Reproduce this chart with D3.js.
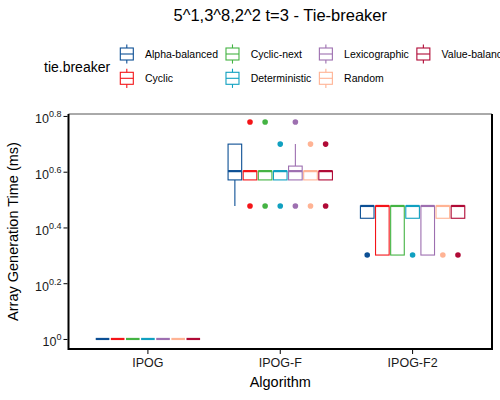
<!doctype html>
<html lang="en">

<head>
    <meta charset="utf-8" />
    <title>Tie-breaker</title>
    <script src="https://d3js.org/d3.v7.min.js"></script>
    <style>
        body { margin: 0; background: #fff; }
        text { font-family: "Liberation Sans", Arial, Helvetica, sans-serif; }
    </style>
</head>

<body>
    <div id="my_dataviz"></div>
    <script>
        // categories
        const algorithms = ["IPOG", "IPOG-F", "IPOG-F2"];
        const tieBreakers = ["Alpha-balanced", "Cyclic", "Cyclic-next", "Deterministic",
            "Lexicographic", "Random", "Value-balanced"];
        const tieColors = ["#0c4f94", "#f41418", "#44b343", "#10a0c0", "#9d6fb0", "#ffb394", "#b00a36"];

        // box statistics in ms, one row per algorithm, one column per tie-breaker
        const whiskerLow = [
            [1, 1, 1, 1, 1, 1, 1],
            [3, 3.72, 3.72, 3.72, 3.72, 3.72, 3.72],
            [2.71, 2, 2, 2.71, 2, 2.71, 2.71]
        ];
        const q1 = [
            [1, 1, 1, 1, 1, 1, 1],
            [3.72, 3.72, 3.72, 3.72, 3.72, 3.72, 3.72],
            [2.71, 2, 2, 2.71, 2, 2.71, 2.71]
        ];
        const median = [
            [1, 1, 1, 1, 1, 1, 1],
            [4, 4, 4, 4, 4, 4, 4],
            [3, 3, 3, 3, 3, 3, 3]
        ];
        const q3 = [
            [1, 1, 1, 1, 1, 1, 1],
            [5, 4, 4, 4, 4.17, 4, 4],
            [3, 3, 3, 3, 3, 3, 3]
        ];
        const whiskerHigh = [
            [1, 1, 1, 1, 1, 1, 1],
            [5, 4, 4, 4, 5, 4, 4],
            [3, 3, 3, 3, 3, 3, 3]
        ];
        const outliers = [
            [[], [], [], [], [], [], []],
            [[], [6, 3], [6, 3], [5, 3], [6, 3], [5, 3], [5, 3]],
            [[2], [], [], [2], [], [2], [2]]
        ];

        // y axis ticks: exponents of 10
        const yExponents = [0, 0.2, 0.4, 0.6, 0.8];

        const W = 500, H = 400;
        const panel = { left: 68.5, right: 492, top: 114, bottom: 349 };

        const svg = d3.select("#my_dataviz")
            .append("svg")
            .attr("width", W)
            .attr("height", H);

        const x = d3.scaleBand()
            .domain(algorithms)
            .range([panel.left, panel.right])
            .padding(0.2);

        const xInner = d3.scaleBand()
            .domain(tieBreakers)
            .range([0, x.bandwidth()])
            .paddingInner(0.1)
            .paddingOuter(0.05);

        const y = d3.scaleLog()
            .domain([Math.pow(10, -0.036), Math.pow(10, 0.807)])
            .range([panel.bottom, panel.top]);

        // title
        svg.append("text")
            .attr("x", (panel.left + panel.right) / 2)
            .attr("y", 21)
            .attr("text-anchor", "middle")
            .style("font-size", "16.5px")
            .text("5^1,3^8,2^2 t=3 - Tie-breaker");

        // boxes
        const rows = [];
        algorithms.forEach((a, i) => {
            tieBreakers.forEach((t, j) => {
                rows.push({
                    alg: a, tie: t, color: tieColors[j],
                    lo: whiskerLow[i][j], q1: q1[i][j], med: median[i][j],
                    q3: q3[i][j], hi: whiskerHigh[i][j], out: outliers[i][j]
                });
            });
        });

        const bw = xInner.bandwidth();
        const g = svg.append("g");
        const box = g.selectAll(".box")
            .data(rows)
            .enter().append("g")
            .attr("class", "box")
            .attr("transform", d => `translate(${x(d.alg) + xInner(d.tie)},0)`);

        box.append("line")
            .attr("x1", bw / 2).attr("x2", bw / 2)
            .attr("y1", d => y(d.hi)).attr("y2", d => y(d.q3))
            .attr("stroke", d => d.color).attr("stroke-width", 1.1);
        box.append("line")
            .attr("x1", bw / 2).attr("x2", bw / 2)
            .attr("y1", d => y(d.q1)).attr("y2", d => y(d.lo))
            .attr("stroke", d => d.color).attr("stroke-width", 1.1);
        box.append("rect")
            .attr("x", 0)
            .attr("width", bw)
            .attr("y", d => y(d.q3))
            .attr("height", d => y(d.q1) - y(d.q3))
            .attr("fill", "#fff")
            .attr("stroke", d => d.color)
            .attr("stroke-width", 1.1);
        box.append("line")
            .attr("x1", 0).attr("x2", bw)
            .attr("y1", d => y(d.med)).attr("y2", d => y(d.med))
            .attr("stroke", d => d.color).attr("stroke-width", 2.2);
        box.selectAll("circle")
            .data(d => d.out.map(v => ({ v: v, color: d.color })))
            .enter().append("circle")
            .attr("cx", bw / 2)
            .attr("cy", d => y(d.v))
            .attr("r", 2.8)
            .attr("fill", d => d.color);

        // panel border
        svg.append("line")
            .attr("x1", panel.left).attr("x2", panel.right)
            .attr("y1", panel.top).attr("y2", panel.top)
            .attr("stroke", "#555").attr("stroke-width", 1);
        svg.append("path")
            .attr("d", `M${panel.left},${panel.top}V${panel.bottom}H${panel.right}V${panel.top}`)
            .attr("fill", "none")
            .attr("stroke", "#000").attr("stroke-width", 2);

        // y axis
        const yAxis = svg.append("g")
            .attr("transform", `translate(${panel.left - 1},0)`)
            .call(d3.axisLeft(y)
                .tickValues(yExponents.map(e => Math.pow(10, e)))
                .tickSize(4)
                .tickSizeOuter(0));
        yAxis.select(".domain").remove();
        yAxis.selectAll(".tick line").attr("stroke", "#000").attr("stroke-width", 1);
        yAxis.selectAll(".tick text").remove();
        yAxis.selectAll(".tick").each(function (d, i) {
            const t = d3.select(this).append("text")
                .attr("x", -6)
                .attr("y", 7)
                .attr("text-anchor", "end")
                .attr("fill", "#1a1a1a")
                .style("font-size", "12.5px");
            t.append("tspan").text("10");
            t.append("tspan")
                .attr("dy", -6)
                .style("font-size", "9px")
                .text(String(yExponents[i]));
        });

        // x axis
        const xAxis = svg.append("g")
            .attr("transform", `translate(0,${panel.bottom + 1})`)
            .call(d3.axisBottom(x).tickSize(4).tickSizeOuter(0));
        xAxis.select(".domain").remove();
        xAxis.selectAll(".tick line").attr("stroke", "#000");
        xAxis.selectAll(".tick text")
            .attr("y", 8)
            .attr("dy", "0.71em")
            .attr("fill", "#1a1a1a")
            .style("font-size", "12.5px")
            .style("font-family", "'Liberation Sans', Arial, sans-serif");

        // axis titles
        svg.append("text")
            .attr("x", (panel.left + panel.right) / 2)
            .attr("y", 387)
            .attr("text-anchor", "middle")
            .style("font-size", "14.5px")
            .text("Algorithm");
        svg.append("text")
            .attr("transform", `translate(18,${(panel.top + panel.bottom) / 2})rotate(-90)`)
            .attr("text-anchor", "middle")
            .style("font-size", "14.5px")
            .text("Array Generation Time (ms)");

        // legend
        const legend = svg.append("g");
        legend.append("text")
            .attr("x", 44)
            .attr("y", 72)
            .style("font-size", "14px")
            .text("tie.breaker");

        const keyW = 13, keyH = 24, rowY = [42, 66.3];
        let colX = 120.3;
        for (let c = 0; c * 2 < tieBreakers.length; c++) {
            let maxW = 0;
            for (let r = 0; r < 2; r++) {
                const k = c * 2 + r;
                if (k >= tieBreakers.length) break;
                const top = rowY[r];
                const kg = legend.append("g").attr("transform", `translate(${colX},${top})`);
                kg.append("line")
                    .attr("x1", keyW / 2).attr("x2", keyW / 2)
                    .attr("y1", keyH * 0.1).attr("y2", keyH * 0.9)
                    .attr("stroke", tieColors[k]).attr("stroke-width", 1.1);
                kg.append("rect")
                    .attr("x", 0).attr("width", keyW)
                    .attr("y", keyH * 0.25).attr("height", keyH * 0.5)
                    .attr("fill", "#fff")
                    .attr("stroke", tieColors[k]).attr("stroke-width", 1.1);
                kg.append("line")
                    .attr("x1", 0).attr("x2", keyW)
                    .attr("y1", keyH / 2).attr("y2", keyH / 2)
                    .attr("stroke", tieColors[k]).attr("stroke-width", 1.1);
                const lbl = legend.append("text")
                    .attr("x", colX + 24.7)
                    .attr("y", top + keyH / 2 + 3.7)
                    .style("font-size", "10.5px")
                    .text(tieBreakers[k]);
                maxW = Math.max(maxW, lbl.node().getComputedTextLength());
            }
            colX = colX + 24.7 + maxW + 8;
        }
    </script>
</body>

</html>
